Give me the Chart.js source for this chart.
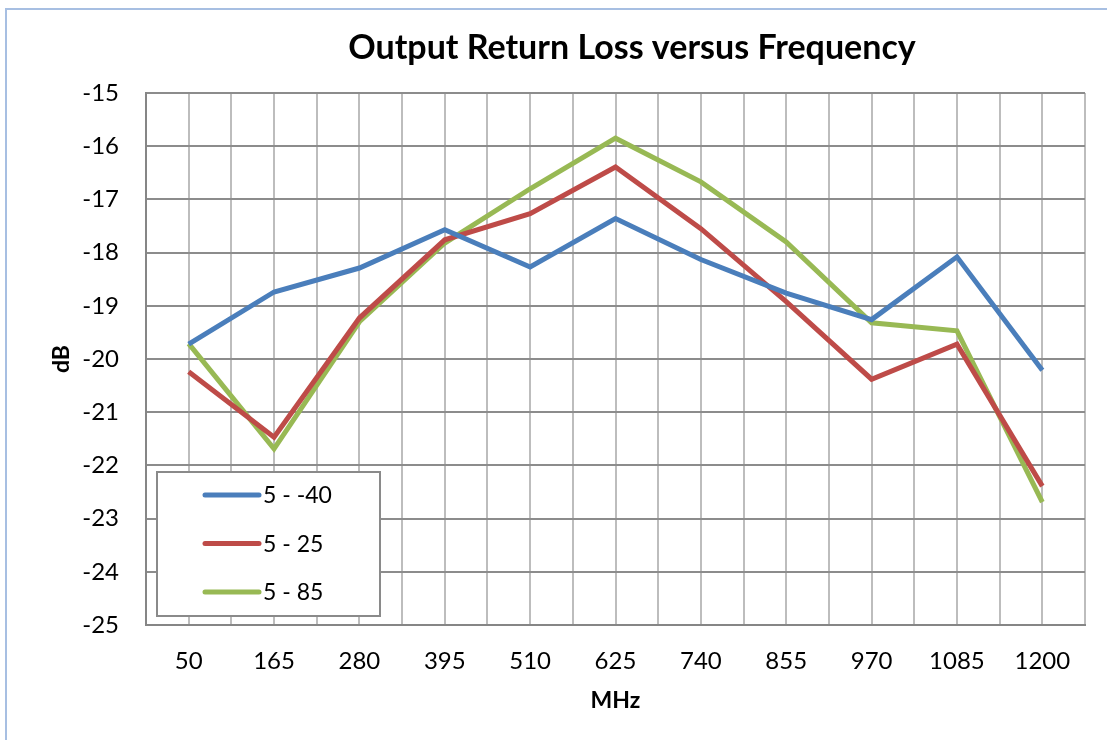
<!DOCTYPE html>
<html>
<head>
<meta charset="utf-8">
<script src="https://cdn.jsdelivr.net/npm/chart.js@4.4.1/dist/chart.umd.min.js"></script>
<style>
  html, body { margin: 0; padding: 0; background: #fff; }
  #wrap { width: 1107px; height: 740px; position: relative; }
</style>
</head>
<body>
<div id="wrap"><canvas id="rlChart"></canvas></div>
<script>
// frequencies (MHz) and return loss (dB)
const freqs = [50, 165, 280, 395, 510, 625, 740, 855, 970, 1085, 1200];
const seriesLabels = ['5 - -40', '5 - 25', '5 - 85'];
const lossCold = [-19.72, -18.74, -18.29, -17.57, -18.27, -17.36, -18.13, -18.76, -19.26, -18.08, -20.21];
const lossRoom = [-20.24, -21.47, -19.23, -17.76, -17.27, -16.39, -17.55, -18.92, -20.38, -19.72, -22.39];
const lossHot  = [-19.71, -21.69, -19.30, -17.82, -16.80, -15.85, -16.67, -17.80, -19.32, -19.47, -22.69];
const yTicks = [-15, -16, -17, -18, -19, -20, -21, -22, -23, -24, -25];
const chartTitle = 'Output Return Loss versus Frequency';

const FONT = 'Lato, "Open Sans", sans-serif';
const colors = ['#4a7ebb', '#be4b48', '#98b954'];

const toPoints = arr => arr.map((v, i) => ({ x: freqs[i], y: v }));

// light blue frame round the whole chart, plus the title (Excel centres it
// a bit right of the plot, so the built-in title can't be used)
const framePlugin = {
  id: 'framePlugin',
  beforeDraw(chart) {
    const { ctx } = chart;
    ctx.save();
    ctx.fillStyle = '#fff';
    ctx.fillRect(0, 0, chart.width, chart.height);
    ctx.strokeStyle = '#a7bfe2';
    ctx.lineWidth = 2;
    ctx.strokeRect(6, 9, chart.width + 20, chart.height + 20);
    ctx.fillStyle = '#000';
    ctx.font = 'bold 34px ' + FONT;
    ctx.textAlign = 'center';
    ctx.textBaseline = 'middle';
    ctx.fillText(chartTitle, 632, 48);
    ctx.restore();
  }
};

// Excel style boxed legend sitting inside the plot
const boxLegendPlugin = {
  id: 'boxLegendPlugin',
  afterDatasetsDraw(chart) {
    const { ctx } = chart;
    const x = 157, y = 472, w = 223, h = 144;
    ctx.save();
    ctx.fillStyle = '#fff';
    ctx.fillRect(x, y, w, h);
    ctx.strokeStyle = '#8a8a8a';
    ctx.lineWidth = 2;
    ctx.strokeRect(x, y, w, h);
    ctx.font = '23px ' + FONT;
    ctx.textBaseline = 'middle';
    ctx.lineCap = 'round';
    chart.data.datasets.forEach((ds, i) => {
      const rowY = y + 23 + i * 48.5;
      ctx.strokeStyle = ds.borderColor;
      ctx.lineWidth = 5;
      ctx.beginPath();
      ctx.moveTo(x + 48, rowY);
      ctx.lineTo(x + 102, rowY);
      ctx.stroke();
      ctx.fillStyle = '#000';
      ctx.fillText(ds.label, x + 106, rowY + 1);
    });
    ctx.restore();
  }
};

new Chart(document.getElementById('rlChart'), {
  type: 'line',
  data: {
    datasets: [
      { label: seriesLabels[0], data: toPoints(lossCold), borderColor: colors[0] },
      { label: seriesLabels[1], data: toPoints(lossRoom), borderColor: colors[1] },
      { label: seriesLabels[2], data: toPoints(lossHot),  borderColor: colors[2] }
    ]
  },
  options: {
    responsive: true,
    maintainAspectRatio: false,
    animation: false,
    layout: { padding: { left: 0, right: 20, top: 93, bottom: 0 } },
    elements: {
      line: { borderWidth: 5, tension: 0, borderJoinStyle: 'miter' },
      point: { radius: 0 }
    },
    plugins: {
      legend: { display: false },
      tooltip: { enabled: false },
      title: { display: false }
    },
    scales: {
      x: {
        type: 'linear',
        min: freqs[0] - 57.5,
        max: freqs[freqs.length - 1] + 57.5,
        afterFit(scale) { scale.height = 740 - 625; },
        ticks: {
          stepSize: 57.5,
          autoSkip: false,
          maxRotation: 0,
          padding: 22,
          color: '#000',
          font: { family: FONT, size: 24 },
          callback: v => (freqs.includes(Math.round(v * 10) / 10) ? String(Math.round(v)) : '')
        },
        grid: { color: '#bdbdbd', lineWidth: 2, drawTicks: false },
        border: { color: '#868686', width: 2 },
        title: {
          display: true,
          text: 'MHz',
          color: '#000',
          font: { family: FONT, size: 23, weight: 'bold' },
          padding: { top: 0, bottom: 26 }
        }
      },
      y: {
        min: -25,
        max: -15,
        afterFit(scale) { scale.width = 146; },
        afterBuildTicks(scale) { scale.ticks = yTicks.map(v => ({ value: v })); },
        ticks: {
          padding: 27,
          color: '#000',
          font: { family: FONT, size: 24 }
        },
        grid: { color: '#8c8c8c', lineWidth: 2, drawTicks: false },
        border: { color: '#868686', width: 2 },
        title: {
          display: true,
          text: 'dB',
          color: '#000',
          font: { family: FONT, size: 23, weight: 'bold' },
          padding: { top: 48, bottom: 0 }
        }
      }
    }
  },
  plugins: [framePlugin, boxLegendPlugin]
});
</script>
</body>
</html>
